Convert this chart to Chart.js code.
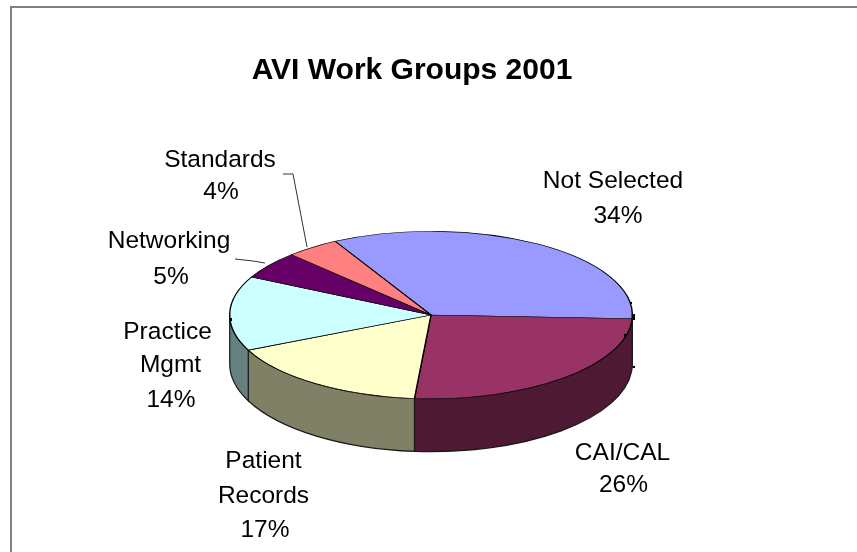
<!DOCTYPE html>
<html><head><meta charset="utf-8">
<style>html,body{margin:0;padding:0;background:#fff}canvas{display:block}</style>
<script src="https://cdn.jsdelivr.net/npm/chart.js@4"></script>
</head><body><canvas id="c" width="857" height="552"></canvas>
<script>
const categories = ["Not Selected","CAI/CAL","Patient Records","Practice Mgmt","Networking","Standards"];
const shares = [33.6,25.6,16.8,14.4,5.3,4.3];
const topColors = ["#9999FF","#993366","#FFFFCC","#CCFFFF","#660066","#FF8080"];
const wallColors = ["#4D4D80","#4D1933","#808066","#668080","#330033","#804040"];
const titleText = "AVI Work Groups 2001";
const nameLines = [["Not Selected"],["CAI/CAL"],["Patient","Records"],["Practice","Mgmt"],["Networking"],["Standards"]];
// layout of the label text, one [centre x, baseline y] per line
const labelPlaces = [
  [[613,188],[618,223]],
  [[622.5,460],[623.5,492]],
  [[263.5,468],[263.5,503],[265,537]],
  [[167.5,339],[170.5,372],[171,407]],
  [[169,248],[171,284]],
  [[220,167],[221,199]]
];
const leaders = [[[283,174],[293,174],[307,247]],[[235,259],[253,261],[265,263]]];
const handles = [[630,302,2,2],[632,314,3,6],[624,334,2,3],[633,366,2,2],[230,318,2,3]];
const SQUASH = 84/202;

const pie3d = {
  id:'pie3d',
  beforeDraw(chart){
    const {ctx,width,height}=chart;
    ctx.save();ctx.strokeStyle='#808080';ctx.lineWidth=2;
    ctx.beginPath();ctx.moveTo(11,height);ctx.lineTo(11,7);ctx.lineTo(width,7);ctx.stroke();ctx.restore();
  },
  beforeDatasetDraw(chart){
    const ctx=chart.ctx, arcs=chart.getDatasetMeta(0).data;
    const TWO=Math.PI*2;
    arcs.forEach((a,i)=>{
      const s=((a.startAngle%TWO)+TWO)%TWO, e=s+(a.endAngle-a.startAngle);
      [[s,e],[s-TWO,e-TWO]].forEach(([p,q])=>{
        const from=Math.max(p,0), to=Math.min(q,Math.PI);
        if(to<=from) return;
        const R=a.outerRadius, X=a.x, Y=a.y;
        ctx.save();
        ctx.beginPath();
        ctx.ellipse(X,Y,R,R*SQUASH,0,from,to);
        ctx.ellipse(X,Y+49,R,R*SQUASH+4,0,to,from,true);
        ctx.closePath();
        ctx.fillStyle=wallColors[i];ctx.fill();
        ctx.strokeStyle='#1a1a1a';ctx.lineWidth=1.2;ctx.stroke();
        ctx.restore();
      });
    });
    ctx.save();
    const a=arcs[0];
    ctx.translate(a.x,a.y);ctx.scale(1,SQUASH);ctx.translate(-a.x,-a.y);
  },
  afterDatasetDraw(chart){
    const ctx=chart.ctx;
    ctx.restore();
    ctx.save();
    ctx.fillStyle='#000';ctx.textAlign='center';ctx.textBaseline='alphabetic';
    handles.forEach(h=>ctx.fillRect(h[0],h[1],h[2],h[3]));
    ctx.font='24.5px "Liberation Sans"';
    nameLines.forEach((names,i)=>{
      const lines=names.concat(Math.round(shares[i])+'%');
      lines.forEach((t,j)=>ctx.fillText(t,labelPlaces[i][j][0],labelPlaces[i][j][1]));
    });
    ctx.strokeStyle='#333';ctx.lineWidth=1;
    leaders.forEach(pts=>{ctx.beginPath();pts.forEach((p,k)=>k?ctx.lineTo(p[0],p[1]):ctx.moveTo(p[0],p[1]));ctx.stroke();});
    ctx.font='bold 30px "Liberation Sans"';
    ctx.fillText(titleText,412,79);
    ctx.restore();
  }
};

new Chart(document.getElementById('c'),{
  type:'pie',
  data:{labels:categories,datasets:[{data:shares,backgroundColor:topColors,borderColor:'#000',borderWidth:1.4}]},
  options:{
    responsive:false,animation:false,rotation:-28.4,
    layout:{padding:{left:229,right:224,top:113,bottom:35}},
    plugins:{legend:{display:false},tooltip:{enabled:false},title:{display:false}}
  },
  plugins:[pie3d]
});
</script></body></html>
